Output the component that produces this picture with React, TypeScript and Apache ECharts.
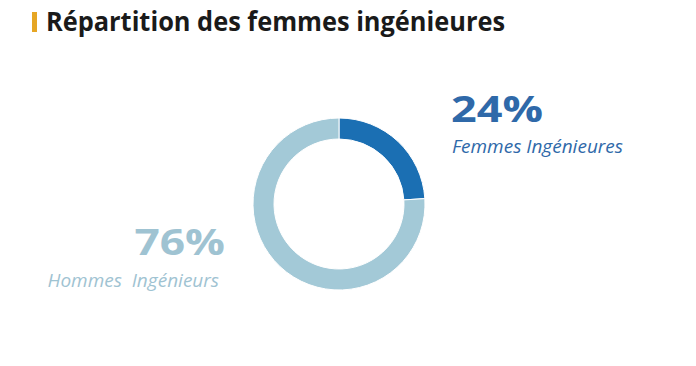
import React, { useEffect, useRef } from "react";
import * as echarts from "echarts";

const titleText = "Répartition des femmes ingénieures";
const categories = ["Femmes Ingénieures", "Hommes  Ingénieurs"];
const values = [24, 76];
const colors = ["#1b6fb3", "#a3c9d7"];
const labelColors = ["#2f69a9", "#9fc3d2"];

export default function App() {
  const ref = useRef<HTMLDivElement>(null);
  useEffect(() => {
    const chart = echarts.init(ref.current!, null, { renderer: "svg" });
    chart.setOption({
      animation: false,
      backgroundColor: "#ffffff",
      series: [
        {
          type: "pie",
          center: [339, 204],
          radius: [65, 86],
          startAngle: 90,
          clockwise: true,
          label: { show: false },
          labelLine: { show: false },
          emphasis: { disabled: true },
          itemStyle: { borderColor: "#ffffff", borderWidth: 1 },
          data: categories.map((c, i) => ({
            name: c,
            value: values[i],
            itemStyle: { color: colors[i] },
          })),
        },
      ],
      graphic: [
        { type: "rect", shape: { x: 32, y: 12, width: 5, height: 20 }, style: { fill: "#e6a624" } },
        {
          type: "text",
          x: 46,
          y: 21,
          scaleX: 0.94,
          style: {
            text: titleText,
            font: "bold 27px 'Open Sans'",
            fill: "#1a1a1a",
            textVerticalAlign: "middle",
          },
        },
        {
          type: "text",
          x: 451,
          y: 108,
          scaleX: 1.25,
          style: {
            text: values[0] + "%",
            font: "bold 36px 'Open Sans'",
            fill: labelColors[0],
            textVerticalAlign: "middle",
          },
        },
        {
          type: "text",
          x: 452,
          y: 146,
          style: {
            text: categories[0],
            font: "italic 19px 'Open Sans'",
            fill: labelColors[0],
            textVerticalAlign: "middle",
          },
        },
        {
          type: "text",
          x: 225,
          y: 241,
          scaleX: 1.23,
          style: {
            text: values[1] + "%",
            font: "bold 36px 'Open Sans'",
            fill: labelColors[1],
            textAlign: "right",
            textVerticalAlign: "middle",
          },
        },
        {
          type: "text",
          x: 219,
          y: 280,
          style: {
            text: categories[1],
            font: "italic 19px 'Open Sans'",
            fill: labelColors[1],
            textAlign: "right",
            textVerticalAlign: "middle",
          },
        },
      ],
    });
    return () => chart.dispose();
  }, []);
  return (
    <div
      ref={ref}
      style={{ position: "fixed", left: 0, top: 0, width: 696, height: 366 }}
    />
  );
}
